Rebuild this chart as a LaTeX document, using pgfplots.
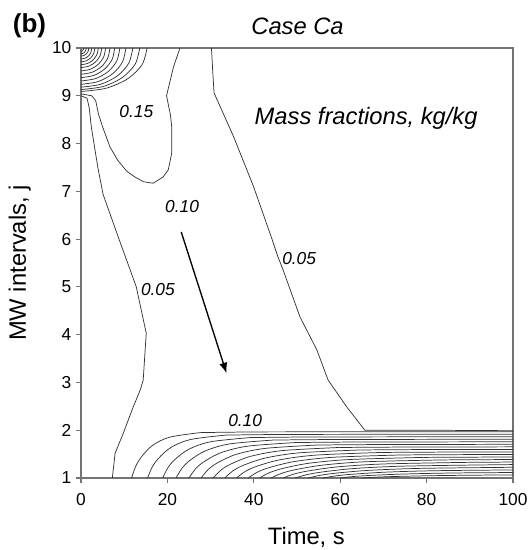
\documentclass[border=0pt]{standalone}
\usepackage{fontspec}
\setmainfont{Liberation Sans}
\usepackage{pgfplots}
\pgfplotsset{compat=1.18}
\usetikzlibrary{arrows.meta}
\begin{document}
\begin{tikzpicture}[x=1pt,y=1pt]
\useasboundingbox (-60.75,-54) rectangle (337.5,358.5);
\begin{axis}[
  at={(0,0)}, anchor=south west,
  scale only axis, width=324pt, height=322.5pt,
  xmin=0, xmax=100, ymin=1, ymax=10,
  xtick={0,20,40,60,80,100}, ytick={1,2,3,4,5,6,7,8,9,10},
  tick align=outside, tick pos=left,
  major tick length=3.75pt,
  axis line style={black!55, line width=0.8pt},
  tick style={black!55, line width=0.8pt},
  ticklabel style={font=\fontsize{13}{15}\selectfont},
  xticklabel style={yshift=-4pt},
  /pgf/number format/assume math mode=true,
  cl/.style={black!80, line width=0.55pt, mark=none},
]
% corner arcs (top-left)
\addplot[cl, smooth] coordinates {(0.6,10)(0.554,9.973)(0.424,9.951)(0.230,9.935)(0,9.93)};
\addplot[cl, smooth] coordinates {(1.2,10)(1.109,9.954)(0.848,9.915)(0.460,9.889)(0,9.88)};
\addplot[cl, smooth] coordinates {(1.8,10)(1.663,9.935)(1.273,9.880)(0.689,9.843)(0,9.83)};
\addplot[cl, smooth] coordinates {(2.5,10)(2.31,9.912)(1.768,9.837)(0.958,9.787)(0,9.77)};
\addplot[cl, smooth] coordinates {(3.2,10)(2.957,9.889)(2.262,9.795)(1.226,9.732)(0,9.71)};
\addplot[cl, smooth] coordinates {(4.0,10)(3.696,9.866)(2.828,9.753)(1.532,9.677)(0,9.65)};
\addplot[cl, smooth] coordinates {(4.8,10)(4.435,9.843)(3.394,9.710)(1.838,9.621)(0,9.59)};
\addplot[cl, smooth] coordinates {(5.7,10)(5.267,9.816)(4.030,9.661)(2.183,9.556)(0,9.52)};
\addplot[cl, smooth] coordinates {(6.7,10)(6.191,9.789)(4.737,9.611)(2.566,9.492)(0,9.45)};
\addplot[cl, smooth] coordinates {(7.8,10)(7.207,9.763)(5.515,9.562)(2.987,9.427)(0,9.38)};
\addplot[cl, smooth] coordinates {(9.0,10)(8.316,9.736)(6.363,9.512)(3.447,9.362)(0,9.31)};
\addplot[cl, smooth] coordinates {(10.4,10)(9.610,9.709)(7.353,9.463)(3.983,9.298)(0,9.24)};
\addplot[cl, smooth] coordinates {(12.0,10)(11.088,9.686)(8.484,9.420)(4.596,9.242)(0,9.18)};
\addplot[cl, smooth] coordinates {(13.6,10)(12.566,9.667)(9.615,9.385)(5.209,9.196)(0,9.13)};
\addplot[cl, smooth] coordinates {(15.3,10)(14.137,9.651)(10.817,9.357)(5.860,9.159)(0,9.09)};
% 0.15 loop
\addplot[cl] coordinates {(22.9,10)(21.4,9.6)(19.8,9.0)(20.7,8.6)(21.0,8.35)(21.0,7.8)(20.2,7.45)(19,7.3)(16.7,7.17)(14.5,7.2)(12.5,7.3)(10.6,7.42)(8.5,7.65)(6.7,7.93)(5.0,8.35)(4.0,8.63)(3.4,8.9)(2.5,9.0)(0,9.04)};
% 0.05 left
\addplot[cl] coordinates {(0,9.00)(1.4,8.95)(1.9,8.75)(2.4,8.34)(3.9,7.5)(5.1,6.94)(8.6,6.05)(12.8,5.0)(15.1,4.03)(14.4,3.05)(13.7,2.84)(12.1,2.49)(9.8,1.94)(7.9,1.52)(7.25,1.0)};
% 0.05 right
\addplot[cl] coordinates {(30.2,10)(30.5,9.5)(30.8,9.06)(35.3,8.15)(39.9,7.11)(44.1,6.03)(45.5,5.65)(46.8,5.35)(50.7,4.37)(54.6,3.68)(57.2,3.05)(61.5,2.49)(65.7,2.0)(80,2.0)(100,1.99)};
% bottom band: rising parts
\addplot[cl, smooth] coordinates {(11.7,1)(12.66,1.243)(13.94,1.437)(16.5,1.679)(20.5,1.854)(27.7,1.951)};
\addplot[cl, smooth] coordinates {(15.4,1)(16.49,1.229)(17.95,1.413)(20.86,1.642)(25.41,1.807)(33.6,1.899)};
\addplot[cl, smooth] coordinates {(18.9,1)(20.12,1.216)(21.76,1.389)(25.02,1.605)(30.12,1.760)(39.3,1.847)};
\addplot[cl, smooth] coordinates {(22,1)(23.36,1.203)(25.16,1.365)(28.78,1.568)(34.43,1.714)(44.6,1.795)};
\addplot[cl, smooth] coordinates {(25,1)(26.49,1.190)(28.47,1.341)(32.44,1.531)(38.64,1.667)(49.8,1.743)};
\addplot[cl, smooth] coordinates {(27.8,1)(29.42,1.176)(31.58,1.317)(35.9,1.494)(42.65,1.620)(54.8,1.691)};
\addplot[cl, smooth] coordinates {(30.6,1)(32.35,1.163)(34.69,1.293)(39.36,1.456)(46.66,1.574)(59.8,1.639)};
\addplot[cl, smooth] coordinates {(33.3,1)(35.18,1.150)(37.7,1.270)(42.72,1.419)(50.57,1.527)(64.7,1.587)};
\addplot[cl, smooth] coordinates {(36,1)(38.02,1.137)(40.70,1.246)(46.08,1.382)(54.48,1.480)(69.6,1.535)};
\addplot[cl, smooth] coordinates {(38.7,1)(40.85,1.123)(43.71,1.222)(49.44,1.345)(58.39,1.434)(74.5,1.483)};
\addplot[cl, smooth] coordinates {(41.3,1)(43.58,1.110)(46.62,1.198)(52.7,1.308)(62.2,1.387)(79.3,1.431)};
\addplot[cl, smooth] coordinates {(44,1)(46.41,1.097)(49.63,1.174)(56.06,1.271)(66.11,1.341)(84.2,1.379)};
\addplot[cl, smooth] coordinates {(46.8,1)(49.34,1.084)(52.74,1.150)(59.52,1.234)(70.12,1.294)(89.2,1.327)};
\addplot[cl, smooth] coordinates {(49.6,1)(52.28,1.070)(55.84,1.126)(62.98,1.197)(74.13,1.247)(94.2,1.275)};
\addplot[cl, smooth] coordinates {(52.6,1)(55.41,1.057)(59.15,1.103)(66.64,1.160)(78.34,1.201)(100,1.224)};
\addplot[cl, smooth] coordinates {(56,1)(58.94,1.044)(62.86,1.079)(70.7,1.123)(82.95,1.154)(105,1.172)};
\addplot[cl, smooth] coordinates {(60,1)(63.07,1.031)(67.17,1.055)(75.36,1.085)(88.16,1.107)(111.2,1.120)};
\addplot[cl, smooth] coordinates {(65,1)(68.2,1.017)(72.48,1.031)(81.02,1.048)(94.37,1.061)(118.4,1.068)};
% bottom band: flat parts
\addplot[cl] coordinates {(27.7,1.951)(40,1.965)(100,1.97)};
\addplot[cl] coordinates {(33.6,1.899)(46,1.912)(100,1.917)};
\addplot[cl] coordinates {(39.3,1.847)(52,1.859)(100,1.864)};
\addplot[cl] coordinates {(44.6,1.795)(58,1.806)(100,1.811)};
\addplot[cl] coordinates {(49.8,1.743)(63,1.753)(100,1.758)};
\addplot[cl] coordinates {(54.8,1.691)(68,1.700)(100,1.705)};
\addplot[cl] coordinates {(59.8,1.639)(73,1.647)(100,1.652)};
\addplot[cl] coordinates {(64.7,1.587)(78,1.595)(100,1.599)};
\addplot[cl] coordinates {(69.6,1.535)(83,1.542)(100,1.546)};
\addplot[cl] coordinates {(74.5,1.483)(87,1.489)(100,1.493)};
\addplot[cl] coordinates {(79.3,1.431)(90,1.436)(100,1.44)};
\addplot[cl] coordinates {(84.2,1.379)(100,1.387)};
\addplot[cl] coordinates {(89.2,1.327)(100,1.334)};
\addplot[cl] coordinates {(94.2,1.275)(100,1.281)};
% labels
\begin{scope}[font=\fontsize{13}{15}\selectfont\itshape]
\node at (axis cs:12.8,8.68) {0.15};
\node at (axis cs:23.4,6.69) {0.10};
\node at (axis cs:17.8,4.95) {0.05};
\node at (axis cs:50.5,5.59) {0.05};
\node at (axis cs:38,2.2) {0.10};
\end{scope}
\node[font=\fontsize{17.8}{20}\selectfont\itshape] at (axis cs:66,8.53) {Mass fractions, kg/kg};
\draw[-{Latex[length=8pt,width=6pt]}, line width=1pt] (axis cs:23.2,6.15) -- (axis cs:33.7,3.19);
\end{axis}
\node[anchor=base, font=\fontsize{17.8}{20}\selectfont\itshape] at (162.4,332.25) {Case Ca};
\node[font=\fontsize{19.5}{22}\selectfont\bfseries] at (-38.6,339) {(b)};
\node[anchor=base, font=\fontsize{17.8}{20}\selectfont] at (169,-50) {Time, s};
\node[rotate=90, anchor=base, font=\fontsize{17.8}{20}\selectfont] at (-41.25,161.25) {MW intervals, j};
\end{tikzpicture}
\end{document}
